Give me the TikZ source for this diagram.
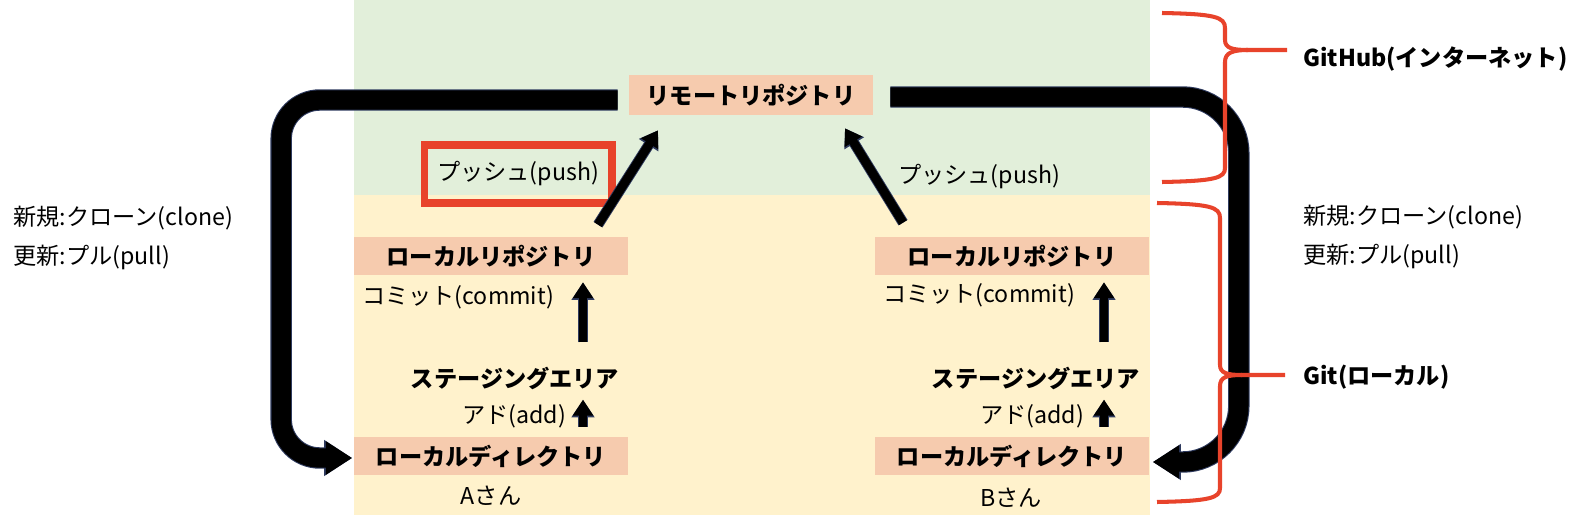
\documentclass[tikz,border=0pt]{standalone}
\usepackage{fontspec}
\setmainfont{Noto Sans CJK JP}
\usetikzlibrary{arrows.meta}
\definecolor{netgreen}{HTML}{E2EFDA}
\definecolor{localyellow}{HTML}{FFF2CC}
\definecolor{repofill}{HTML}{F6CBAE}
\definecolor{markred}{HTML}{E8432B}
\definecolor{arrowblue}{HTML}{2E3A5E}
\tikzset{
 plaintext/.style={inner sep=0pt,font=\fontsize{13.2}{16}\selectfont},
 boldtext/.style={inner sep=0pt,font=\fontsize{13.2}{16}\selectfont\bfseries},
 repobox/.style={fill=repofill,minimum width=5.5cm,minimum height=0.76cm,inner sep=0pt,font=\fontsize{13.2}{16}\selectfont\bfseries},
 steparrow/.style={line width=5pt,black,-{Triangle[length=9pt,width=11pt]},
  preaction={draw=arrowblue,line width=6pt,-{Triangle[length=10pt,width=12.5pt]}}},
 pullarrow/.style={line width=11pt,black,-{Triangle[length=15pt,width=18pt]},
  preaction={draw=arrowblue,line width=12.2pt,-{Triangle[length=16pt,width=19.5pt]}}},
 bracket/.style={draw=markred,line width=2.3pt}
}
\begin{document}
\begin{tikzpicture}[x=0.02cm,y=-0.02cm]
 \useasboundingbox (0,0) rectangle (1578,520);
 % panels
 \fill[netgreen](354,0) rectangle (1150,195);
 \fill[localyellow](354,195) rectangle (1150,515);
 % boxes
 \node[repobox,minimum width=4.88cm,minimum height=0.8cm] (remote) at (751,95) {リモートリポジトリ};
 \node[repobox] (repoA) at (491,256) {ローカルリポジトリ};
 \node[repobox] (repoB) at (1012,256) {ローカルリポジトリ};
 \node[repobox] (dirA) at (491,456) {ローカルディレクトリ};
 \node[repobox] (dirB) at (1012,456) {ローカルディレクトリ};
 \node[boldtext] (stageA) at (515,378) {ステージングエリア};
 \node[boldtext] (stageB) at (1036,378) {ステージングエリア};
 % labels
 \node[plaintext] (commitA) at (458,297) {コミット(commit)};
 \node[plaintext] (commitB) at (979,295) {コミット(commit)};
 \node[plaintext] (addA) at (514,416) {アド(add)};
 \node[plaintext] (addB) at (1032,416) {アド(add)};
 \node[plaintext,draw=markred,line width=4pt,minimum width=3.76cm,minimum height=1.16cm] (pushA) at (518,174) {プッシュ(push)};
 \node[plaintext] (pushB) at (979,177) {プッシュ(push)};
 \node[plaintext] (nameA) at (491,496) {Aさん};
 \node[plaintext] (nameB) at (1011,498) {Bさん};
 \node[plaintext,anchor=west] (cloneL) at (13,218) {新規:クローン(clone)};
 \node[plaintext,anchor=west] (pullL) at (13,257) {更新:プル(pull)};
 \node[plaintext,anchor=west] (cloneR) at (1303,217) {新規:クローン(clone)};
 \node[plaintext,anchor=west] (pullR) at (1303,256) {更新:プル(pull)};
 \node[boldtext,anchor=west] (github) at (1303,59) {GitHub(インターネット)};
 \node[boldtext,anchor=west] (git) at (1303,377) {Git(ローカル)};
 % clone / pull
 \draw[pullarrow,rounded corners=22pt] ([shift={(-11,5)}]remote.west) -| ([shift={(-72,2)}]dirA.west) -- ([shift={(-1,2)}]dirA.west);
 \draw[pullarrow,rounded corners=32pt] ([shift={(17,2)}]remote.east) -| ([shift={(89,6)}]dirB.east) -- ([shift={(3,6)}]dirB.east);
 % add / commit / push
 \draw[steparrow] ([shift={(92,-10)}]dirA.north) -- ([shift={(68,10)}]stageA.south);
 \draw[steparrow] ([shift={(92,-10)}]dirB.north) -- ([shift={(68,10)}]stageB.south);
 \draw[steparrow] ([shift={(68,-24)}]stageA.north) -- ([shift={(92,7)}]repoA.south);
 \draw[steparrow] ([shift={(68,-24)}]stageB.north) -- ([shift={(92,7)}]repoB.south);
 \draw[steparrow] ([shift={(107,-12)}]repoA.north) -- ([shift={(-93,15)}]remote.south);
 \draw[steparrow] ([shift={(-109,-14)}]repoB.north) -- ([shift={(94,13)}]remote.south);
 % brackets
 \draw[bracket] (1162,13) .. controls (1215,14) and (1225,17) .. (1225,28) -- (1225,40) .. controls (1225,48) and (1232,50) .. (1248,50) -- (1287,50);
 \draw[bracket] (1248,50) .. controls (1232,50) and (1225,53) .. (1225,62) -- (1225,168) .. controls (1225,178) and (1215,181) .. (1162,182);
 \draw[bracket] (1157,203) .. controls (1210,204) and (1220,207) .. (1220,218) -- (1220,365) .. controls (1220,373) and (1227,375) .. (1242,375) -- (1285,375);
 \draw[bracket] (1242,375) .. controls (1227,375) and (1220,377) .. (1220,386) -- (1220,488) .. controls (1220,498) and (1210,501) .. (1157,502);
\end{tikzpicture}
\end{document}
